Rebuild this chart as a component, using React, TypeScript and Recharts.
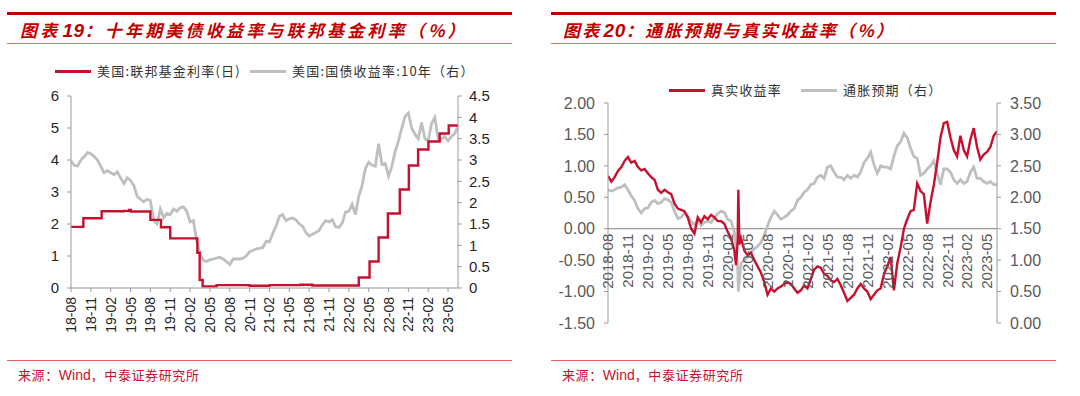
import React from 'react';
import { LineChart, Line, XAxis, YAxis, ReferenceLine } from 'recharts';

// Semimonthly observations (1st and 16th of each month) from 2018-08-01 to 2023-06-16.
// x position of observation i = months since 2018-08-01.

// 美国:国债收益率:10年 (%)
const ust10y = [
  2.98, 2.87, 2.86, 3.0, 3.08, 3.18, 3.15, 3.08, 3.0, 2.85,
  2.7, 2.75, 2.7, 2.66, 2.72, 2.58, 2.45, 2.58, 2.52, 2.4,
  2.15, 2.08, 2.02, 2.08, 2.05, 1.58, 1.5, 1.85, 1.65, 1.75,
  1.72, 1.85, 1.8, 1.88, 1.9, 1.8, 1.55, 1.58, 1.1, 0.8,
  0.65, 0.62, 0.66, 0.68, 0.7, 0.72, 0.68, 0.62, 0.55, 0.68,
  0.68, 0.68, 0.7, 0.75, 0.85, 0.88, 0.92, 0.93, 0.95, 1.1,
  1.08, 1.28, 1.45, 1.68, 1.72, 1.58, 1.62, 1.64, 1.6, 1.5,
  1.45, 1.3, 1.22, 1.26, 1.3, 1.35, 1.48, 1.58, 1.55, 1.6,
  1.44, 1.42, 1.52, 1.78, 1.8, 1.96, 1.72, 2.15, 2.4, 2.8,
  2.95, 2.88, 2.85, 3.38, 2.9, 2.92, 2.62, 2.85, 3.2, 3.45,
  3.75, 4.02, 4.1, 3.75, 3.6, 3.5, 3.88, 3.5, 3.45, 3.85,
  4.0, 3.5, 3.48, 3.55, 3.45, 3.55, 3.62, 3.78,
];

// 美国:联邦基金利率(日): change dates (months since 2018-08-01) and levels (%)
const fedChangeMonths = [
  0, 1.87, 4.63, 8.0, 8.8, 9.05, 12.0, 13.6, 15.0, 19.1, 19.45, 19.9, 22.0, 24.0,
  27.0, 30.0, 34.6, 36.5, 40.0, 43.5, 45.13, 46.5, 47.9, 49.7, 51.07, 52.47, 54.03,
  55.73, 57.1, 58.5,
];
const fedFundsRate = [
  1.91, 2.18, 2.4, 2.41, 2.44, 2.39, 2.13, 1.9, 1.55, 1.1, 0.25, 0.05, 0.09, 0.09,
  0.07, 0.09, 0.1, 0.08, 0.08, 0.33, 0.83, 1.58, 2.33, 3.08, 3.83, 4.33, 4.58,
  4.83, 5.08, 5.08,
];

// 真实收益率 (%)
const realYield = [
  0.84, 0.75, 0.82, 0.92, 0.98, 1.08, 1.14, 1.05, 1.08, 0.98,
  0.93, 0.95, 0.88, 0.82, 0.78, 0.62, 0.57, 0.62, 0.58, 0.55,
  0.4, 0.32, 0.3, 0.28, 0.18, 0.0, -0.08, 0.18, 0.1, 0.2,
  0.15, 0.22, 0.18, 0.12, 0.12, 0.08, -0.05, -0.15, -0.35, -0.2,
  -0.15, -0.35, -0.42, -0.38, -0.5, -0.6, -0.7, -0.85, -1.05, -0.95,
  -1.0, -0.95, -0.92, -0.88, -0.85, -0.88, -0.95, -1.02, -0.98, -0.9,
  -0.95, -0.8, -0.65, -0.6, -0.62, -0.72, -0.75, -0.82, -0.85, -0.8,
  -0.9, -1.02, -1.15, -1.1, -1.05, -0.95, -0.88, -0.95, -1.0, -1.12,
  -1.05, -0.98, -0.95, -0.72, -0.6, -0.45, -0.98, -0.55, -0.3, 0.0,
  0.15, 0.28, 0.3, 0.72, 0.6, 0.55, 0.08, 0.42, 0.7, 1.05,
  1.45, 1.68, 1.7, 1.45, 1.25, 1.15, 1.48, 1.25, 1.15, 1.42,
  1.6, 1.3, 1.1, 1.18, 1.22, 1.3, 1.48, 1.55,
];

// 通胀预期（右）(%)
const breakeven = [
  2.12, 2.1, 2.12, 2.15, 2.16, 2.2, 2.12, 2.02, 1.95, 1.82,
  1.75, 1.82, 1.83, 1.92, 1.95, 1.9, 1.92, 1.98, 1.96, 1.92,
  1.78, 1.66, 1.68, 1.75, 1.7, 1.62, 1.56, 1.65, 1.55, 1.6,
  1.62, 1.6, 1.68, 1.74, 1.78, 1.76, 1.65, 1.62, 1.45, 0.9,
  0.95, 1.0, 1.05, 1.12, 1.18, 1.22, 1.28, 1.4, 1.55, 1.68,
  1.78, 1.72, 1.65, 1.68, 1.72, 1.78, 1.82, 1.95, 2.0, 2.08,
  2.12, 2.2, 2.22, 2.32, 2.35, 2.3, 2.48, 2.5, 2.4, 2.32,
  2.32, 2.28, 2.35, 2.3, 2.35, 2.32, 2.4, 2.55, 2.62, 2.72,
  2.52, 2.38, 2.5, 2.48, 2.48, 2.45, 2.65, 2.82, 2.88, 3.02,
  2.95, 2.78, 2.65, 2.62, 2.35, 2.38, 2.45, 2.5, 2.58, 2.38,
  2.2, 2.45, 2.45, 2.4, 2.28, 2.22, 2.28, 2.22, 2.25, 2.4,
  2.48, 2.3, 2.3, 2.25, 2.22, 2.25, 2.2, 2.2,
];

// extra observations around the March 2020 turmoil
const crisisMonths = [19.25, 19.6, 19.75];
const crisisRealYield = [-0.58, 0.62, -0.25];
const crisisBreakeven = [1.18, 0.5, 0.66];

const tickMonths = [0, 3, 6, 9, 12, 15, 18, 21, 24, 27, 30, 33, 36, 39, 42, 45, 48, 51, 54, 57];
const leftTickLabels = [
  '18-08', '18-11', '19-02', '19-05', '19-08', '19-11', '20-02', '20-05', '20-08', '20-11',
  '21-02', '21-05', '21-08', '21-11', '22-02', '22-05', '22-08', '22-11', '23-02', '23-05',
];
const rightTickLabels = [
  '2018-08', '2018-11', '2019-02', '2019-05', '2019-08', '2019-11', '2020-02', '2020-05',
  '2020-08', '2020-11', '2021-02', '2021-05', '2021-08', '2021-11', '2022-02', '2022-05',
  '2022-08', '2022-11', '2023-02', '2023-05',
];
const fedAxisTicks = [0, 1, 2, 3, 4, 5, 6];
const ustAxisTicks = [0, 0.5, 1, 1.5, 2, 2.5, 3, 3.5, 4, 4.5];
const realAxisTicks = [-1.5, -1, -0.5, 0, 0.5, 1, 1.5, 2];
const beAxisTicks = [0, 0.5, 1, 1.5, 2, 2.5, 3, 3.5];

const ustData = ust10y.map((v, i) => ({ m: i * 0.5, ust: v }));
const fedData = fedChangeMonths.map((m, i) => ({ m, ff: fedFundsRate[i] }));
const rightData = [
  ...realYield.map((v, i) => ({ m: i * 0.5, real: v, be: breakeven[i] })),
  ...crisisMonths.map((m, i) => ({ m, real: crisisRealYield[i], be: crisisBreakeven[i] })),
].sort((a, b) => a.m - b.m);

const RED = '#C8102E';
const GRAY = '#BFBFBF';
const TITLE_RED = '#C00000';
const AXIS = '#9A9A9A';
const NUM_FONT = '"Liberation Sans", Arial, sans-serif';
const CJK_FONT = '"Noto Sans CJK SC", sans-serif';

const X_END = 58.5;
const R_PLOT_H = 220;
const R_MIN = -1.5;
const R_MAX = 2;

const LeftXTick = (props: any) => {
  const { x, y, payload } = props;
  const label = leftTickLabels[tickMonths.indexOf(payload.value)];
  return (
    <text
      x={x}
      y={y}
      transform={`rotate(-90 ${x} ${y})`}
      textAnchor="end"
      dy="0.36em"
      fontSize={14}
      fill="#262626"
      fontFamily={NUM_FONT}
    >
      {label}
    </text>
  );
};

const RightXTick = (props: any) => {
  const { x, y, payload } = props;
  const label = rightTickLabels[tickMonths.indexOf(payload.value)];
  const zeroLift = (R_PLOT_H * (0 - R_MIN)) / (R_MAX - R_MIN);
  const ty = y - zeroLift + 5;
  return (
    <text
      x={x}
      y={ty}
      transform={`rotate(-90 ${x} ${ty})`}
      textAnchor="end"
      dy="0.36em"
      fontSize={15}
      fill="#595959"
      fontFamily={NUM_FONT}
    >
      {label}
    </text>
  );
};

const abs = (s: React.CSSProperties): React.CSSProperties => ({ position: 'absolute', ...s });

const Title = ({ left, num, text, spacing }: { left: number; num: string; text: string; spacing: number }) => (
  <div
    style={abs({
      left,
      top: 19,
      height: 21,
      lineHeight: '21px',
      fontFamily: CJK_FONT,
      fontSize: 17,
      fontStyle: 'italic',
      fontWeight: 700,
      color: TITLE_RED,
      letterSpacing: spacing,
      whiteSpace: 'nowrap',
    })}
  >
    图表
    <span style={{ fontFamily: NUM_FONT, fontSize: 19, marginLeft: 2, letterSpacing: 0.5 }}>{num}</span>
    {text}
  </div>
);

const LegendItem = ({ left, top, color, text }: { left: number; top: number; color: string; text: string }) => (
  <div style={abs({ left, top, height: 18, display: 'flex', alignItems: 'center', whiteSpace: 'nowrap' })}>
    <div style={{ width: 36, height: 3, background: color }} />
    <span
      style={{
        marginLeft: 6,
        fontFamily: CJK_FONT,
        fontSize: 13,
        color: '#333',
        letterSpacing: 1.2,
        lineHeight: '18px',
      }}
    >
      {text}
    </span>
  </div>
);

const Panel = ({ left }: { left: number }) => (
  <>
    <div style={abs({ left: left + 7, top: 12, width: 505, height: 3, background: TITLE_RED })} />
    <div style={abs({ left: left + 7, top: 43, width: 505, height: 1, background: '#E07070' })} />
    <div style={abs({ left: left + 7, top: 360, width: 505, height: 1, background: '#E06666' })} />
    <div
      style={abs({
        left: left + 18,
        top: 366,
        height: 18,
        lineHeight: '18px',
        fontFamily: CJK_FONT,
        fontSize: 13,
        color: '#C8102E',
        letterSpacing: 0.6,
        whiteSpace: 'nowrap',
      })}
    >
      来源：<span style={{ fontFamily: NUM_FONT, fontSize: 14, letterSpacing: 0 }}>Wind</span>，中泰证券研究所
    </div>
  </>
);

export default function App() {
  return (
    <div style={abs({ left: 0, top: 0, width: 1080, height: 396, background: '#fff', overflow: 'hidden' })}>
      <Panel left={0} />
      <Panel left={544} />
      <Title left={20} num="19" text="：十年期美债收益率与联邦基金利率（%）" spacing={3.2} />
      <Title left={563} num="20" text="：通胀预期与真实收益率（%）" spacing={2.3} />

      <LegendItem left={55} top={62} color={RED} text="美国:联邦基金利率(日)" />
      <LegendItem left={250} top={62} color={GRAY} text="美国:国债收益率:10年（右）" />
      <LegendItem left={669} top={81} color={RED} text="真实收益率" />
      <LegendItem left={801} top={81} color={GRAY} text="通胀预期（右）" />

      <div style={abs({ left: 0, top: 50 })}>
        <LineChart width={540} height={300} margin={{ top: 46, right: 0, bottom: 0, left: 0 }}>
          <XAxis
            type="number"
            dataKey="m"
            domain={[0, X_END]}
            ticks={tickMonths}
            interval={0}
            height={62}
            tickSize={4}
            tickMargin={5}
            stroke={AXIS}
            tick={(p: any) => <LeftXTick {...p} />}
            allowDataOverflow
          />
          <YAxis
            yAxisId="fed"
            domain={[0, 6]}
            ticks={fedAxisTicks}
            interval={0}
            width={71}
            tickSize={4}
            tickMargin={8}
            stroke={AXIS}
            tick={{ fill: '#262626', fontSize: 15, fontFamily: NUM_FONT }}
          />
          <YAxis
            yAxisId="ust"
            orientation="right"
            domain={[0, 4.5]}
            ticks={ustAxisTicks}
            interval={0}
            width={82}
            tickSize={4}
            tickMargin={7}
            stroke={AXIS}
            tick={{ fill: '#262626', fontSize: 15, fontFamily: NUM_FONT }}
          />
          <Line
            yAxisId="ust"
            data={ustData}
            dataKey="ust"
            stroke={GRAY}
            strokeWidth={2.8}
            dot={false}
            isAnimationActive={false}
          />
          <Line
            yAxisId="fed"
            data={fedData}
            dataKey="ff"
            type="stepAfter"
            stroke={RED}
            strokeWidth={2.4}
            dot={false}
            isAnimationActive={false}
          />
        </LineChart>
      </div>

      <div style={abs({ left: 540, top: 50 })}>
        <LineChart width={540} height={292} data={rightData} margin={{ top: 53, right: 0, bottom: 12, left: 0 }}>
          <XAxis
            type="number"
            dataKey="m"
            domain={[0, X_END]}
            ticks={tickMonths}
            interval={0}
            height={7}
            tickSize={0}
            tickMargin={0}
            axisLine={false}
            tickLine={false}
            tick={(p: any) => <RightXTick {...p} />}
            allowDataOverflow
          />
          <YAxis
            yAxisId="real"
            domain={[R_MIN, R_MAX]}
            ticks={realAxisTicks}
            interval={0}
            width={68}
            tickSize={4}
            tickMargin={9}
            stroke={AXIS}
            tickFormatter={(v: number) => v.toFixed(2)}
            tick={{ fill: '#595959', fontSize: 16, fontFamily: NUM_FONT }}
          />
          <YAxis
            yAxisId="be"
            orientation="right"
            domain={[0, 3.5]}
            ticks={beAxisTicks}
            interval={0}
            width={83}
            tickSize={4}
            tickMargin={9}
            stroke={AXIS}
            tickFormatter={(v: number) => v.toFixed(2)}
            tick={{ fill: '#595959', fontSize: 16, fontFamily: NUM_FONT }}
          />
          <ReferenceLine yAxisId="real" y={0} stroke={AXIS} strokeWidth={1.2} />
          <Line
            yAxisId="be"
            dataKey="be"
            stroke={GRAY}
            strokeWidth={2.8}
            dot={false}
            isAnimationActive={false}
          />
          <Line
            yAxisId="real"
            dataKey="real"
            stroke={RED}
            strokeWidth={2.4}
            dot={false}
            isAnimationActive={false}
          />
        </LineChart>
      </div>
    </div>
  );
}
